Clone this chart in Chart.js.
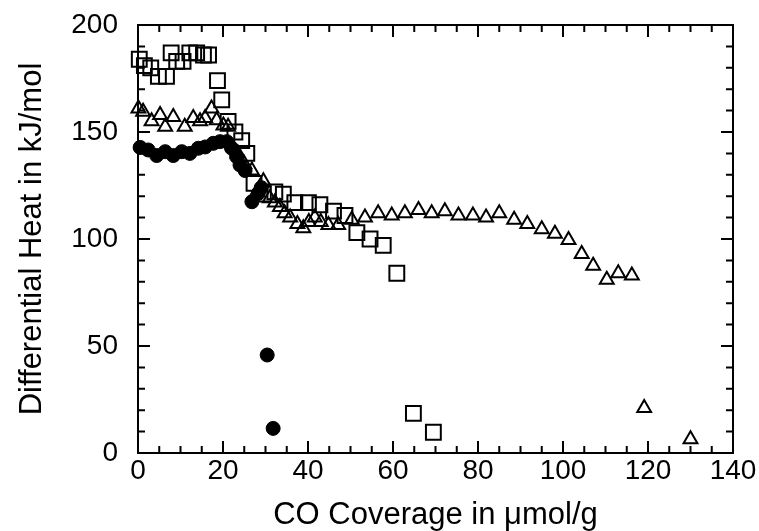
<!DOCTYPE html>
<html>
<head>
<meta charset="utf-8">
<script src="https://cdn.jsdelivr.net/npm/chart.js@4/dist/chart.umd.min.js"></script>
<style>
  html, body { margin: 0; padding: 0; background: #fff; }
  #wrap { width: 759px; height: 531px; }
</style>
</head>
<body>
<div id="wrap"><canvas id="heat-chart"></canvas></div>
<script>
// open squares
const squareX = [0.3, 1.5, 3.0, 4.8, 6.7, 7.8, 9.1, 10.6, 12.2, 13.8, 15.4, 16.6, 18.7, 19.7,
  21.2, 22.8, 24.4, 25.6, 27.3, 29.5, 32.2, 34.2, 36.9, 40.1, 42.8, 46.0, 48.7, 51.5, 54.6,
  57.7, 60.9, 64.8, 69.5];
const squareY = [184, 181, 180, 176, 176, 187, 183, 183, 187, 187, 186, 186, 174, 165,
  155, 150, 146, 140, 126, 121, 122, 121, 117, 117, 116, 113, 111, 103, 100,
  97, 84, 18.5, 9.7];

// open triangles
const triangleX = [0.1, 1.2, 3.2, 5.2, 6.4, 8.3, 11.0, 13.0, 14.6, 15.8, 17.3, 18.5, 20.1,
  21.2, 23.5, 25.0, 26.8, 28.0, 29.5, 31.0, 32.2, 33.4, 34.5, 35.8, 37.5, 38.9, 40.2, 41.6,
  43.0, 44.8, 47.1, 50.3, 53.4, 56.5, 59.7, 62.8, 66.0, 69.1, 72.2, 75.4, 78.8, 81.9, 85.0,
  88.5, 91.6, 95.0, 98.1, 101.3, 104.4, 107.1, 110.3, 113.0, 116.2, 119.1, 130.0];
const triangleY = [161, 159.5, 155, 158, 152.5, 157, 152.5, 156.5, 155, 156.5, 161, 155.5, 153,
  152.5, 140, 135, 132, 122, 127, 119, 117, 115, 112, 110, 107, 105, 108, 110,
  108, 106.5, 106.5, 109, 110, 112, 111, 112, 113.5, 112, 113, 111, 111, 110, 112,
  109, 107, 104.5, 102.5, 99.5, 93, 87.5, 81, 84, 83, 21, 6.4];

// filled circles
const circleX = [0.5, 2.4, 4.4, 6.4, 8.3, 10.3, 12.2, 14.2, 15.8, 17.7, 19.3, 20.9, 22.0,
  23.2, 24.0, 25.2, 26.8, 28.3, 29.0, 30.4, 31.8];
const circleY = [142.8, 141.6, 139, 140.8, 139, 140.8, 140, 142.4, 143, 144.7, 145.5, 145.5, 142.5,
  138.5, 134.6, 132, 117.4, 121.3, 124, 45.8, 11.5];

const xTicks = [0, 20, 40, 60, 80, 100, 120, 140];
const yTicks = [0, 50, 100, 150, 200];

const toPoints = (xs, ys) => xs.map((x, i) => ({ x: x, y: ys[i] }));

// frame with inward ticks on all four sides
const framePlugin = {
  id: "frame",
  afterDatasetsDraw(chart) {
    const { ctx, chartArea: a, scales } = chart;
    const xs = scales.x, ys = scales.y;
    ctx.save();
    ctx.strokeStyle = "#000";
    ctx.lineWidth = 2;
    ctx.strokeRect(a.left, a.top, a.right - a.left, a.bottom - a.top);
    ctx.beginPath();
    for (let v = 0; v <= 140; v += 5) {
      const px = xs.getPixelForValue(v);
      const len = v % 20 === 0 ? 12 : 7;
      ctx.moveTo(px, a.bottom); ctx.lineTo(px, a.bottom - len);
      ctx.moveTo(px, a.top); ctx.lineTo(px, a.top + len);
    }
    for (let v = 0; v <= 200; v += 10) {
      const py = ys.getPixelForValue(v);
      const len = v % 50 === 0 ? 12 : 7;
      ctx.moveTo(a.left, py); ctx.lineTo(a.left + len, py);
      ctx.moveTo(a.right, py); ctx.lineTo(a.right - len, py);
    }
    ctx.stroke();
    ctx.restore();
  },
};

const ctx = document.getElementById("heat-chart").getContext("2d");

new Chart(ctx, {
  type: "scatter",
  data: {
    datasets: [
      {
        label: "circles",
        data: toPoints(circleX, circleY),
        pointStyle: "circle",
        pointRadius: 7,
        backgroundColor: "#000",
        borderColor: "#000",
        borderWidth: 1,
        clip: false,
      },
      {
        label: "triangles",
        data: toPoints(triangleX, triangleY),
        pointStyle: "triangle",
        pointRadius: 8,
        backgroundColor: "rgba(255,255,255,0)",
        borderColor: "#000",
        borderWidth: 2,
        clip: false,
      },
      {
        label: "squares",
        data: toPoints(squareX, squareY),
        pointStyle: "rect",
        pointRadius: 10.5,
        backgroundColor: "rgba(255,255,255,0)",
        borderColor: "#000",
        borderWidth: 2,
        clip: false,
      },
    ],
  },
  options: {
    responsive: true,
    maintainAspectRatio: false,
    animation: false,
    layout: { padding: { left: 0, right: 26, top: 25, bottom: 0 } },
    plugins: { legend: { display: false }, tooltip: { enabled: false } },
    scales: {
      x: {
        type: "linear",
        min: 0,
        max: 140,
        afterBuildTicks: (scale) => { scale.ticks = xTicks.map((v) => ({ value: v })); },
        afterFit: (scale) => {
          scale.height = 78;
          scale.paddingLeft = 0;
          scale.paddingRight = 0;
        },
        grid: { display: false, drawTicks: false },
        border: { display: false },
        ticks: {
          color: "#000",
          padding: 1,
          font: { family: "Liberation Sans", size: 28 },
        },
        title: {
          display: true,
          text: "CO Coverage in μmol/g",
          color: "#000",
          padding: { top: 0, bottom: 0 },
          font: { family: "Liberation Sans", size: 31, lineHeight: 1 },
        },
      },
      y: {
        type: "linear",
        min: 0,
        max: 200,
        afterBuildTicks: (scale) => { scale.ticks = yTicks.map((v) => ({ value: v })); },
        afterFit: (scale) => {
          scale.width = 138;
          scale.paddingTop = 0;
          scale.paddingBottom = 0;
        },
        grid: { display: false, drawTicks: false },
        border: { display: false },
        ticks: {
          color: "#000",
          padding: 20,
          font: { family: "Liberation Sans", size: 28 },
        },
        title: {
          display: true,
          text: "Differential Heat in kJ/mol",
          color: "#000",
          padding: { top: 17, bottom: 0 },
          font: { family: "Liberation Sans", size: 31, lineHeight: 1 },
        },
      },
    },
  },
  plugins: [framePlugin],
});
</script>
</body>
</html>
